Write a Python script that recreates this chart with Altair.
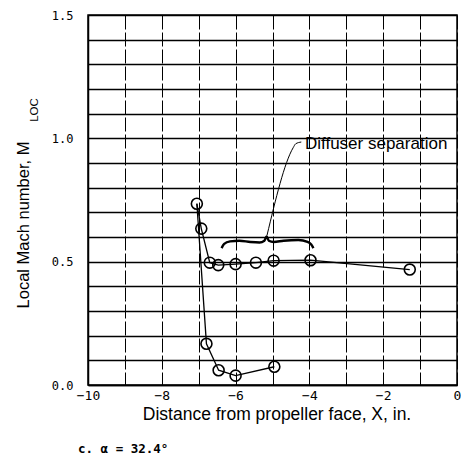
import altair as alt
import pandas as pd

# Measured data (Distance X in inches, local Mach number)
upper_x = [-7.05, -6.93, -6.70, -6.47, -6.00, -5.45, -4.97, -3.97, -1.28]
upper_y = [0.735, 0.634, 0.496, 0.486, 0.490, 0.496, 0.504, 0.506, 0.468]
lower_x = [-7.05, -6.79, -6.46, -6.00, -4.95]
lower_y = [0.735, 0.167, 0.060, 0.038, 0.074]

# Annotation: curly brace and leader line
brace_x = [-6.38, -6.31, -6.15, -5.90, -5.60, -5.35, -5.22, -5.16, -5.10, -4.97, -4.70, -4.30, -4.05, -3.95, -3.89]
brace_y = [0.555, 0.572, 0.582, 0.585, 0.580, 0.578, 0.585, 0.602, 0.585, 0.580, 0.585, 0.588, 0.580, 0.570, 0.555]
leader_x = [-5.15, -4.44, -4.37, -4.22]
leader_y = [0.606, 0.962, 0.978, 0.985]
note_text = ["Diffuser separation"]
note_x = [-4.12]
note_y = [0.978]

x_ticks = list(range(-10, 1))
y_ticks = [round(i * 0.1, 1) for i in range(16)]

W, H = 369, 370

rows = []
for i, (a, b) in enumerate(zip(upper_x, upper_y)):
    rows.append({"x": a, "y": b, "branch": "upper", "o": i})
for i, (a, b) in enumerate(zip(lower_x, lower_y)):
    rows.append({"x": a, "y": b, "branch": "lower", "o": i})
lines_df = pd.DataFrame(rows)
pts_df = lines_df.drop_duplicates(subset=["x", "y"])

brace_df = pd.DataFrame({"x": brace_x, "y": brace_y, "o": list(range(len(brace_x)))})
leader_df = pd.DataFrame({"x": leader_x, "y": leader_y, "o": list(range(len(leader_x)))})
note_df = pd.DataFrame({"x": note_x, "y": note_y, "t": note_text})

X = alt.X(
    "x:Q",
    scale=alt.Scale(domain=[-10, 0], nice=False, zero=False),
    axis=alt.Axis(
        values=x_ticks,
        labelExpr="datum.value % 2 == 0 ? format(datum.value, 'd') : ''",
        title=None,
        grid=True,
        gridDash=[14, 3],
        gridColor="black",
        gridOpacity=1,
        gridWidth=1,
        ticks=False,
        labelPadding=4,
        labelFont="DejaVu Sans Mono",
        labelFontSize=13,
        labelColor="black",
        labelBaseline="top",
        labelFlush=False,
        labelOverlap=False,
        domainColor="black",
        domainWidth=1.5,
    ),
)
Y = alt.Y(
    "y:Q",
    scale=alt.Scale(domain=[0, 1.5], nice=False, zero=False),
    axis=alt.Axis(
        values=y_ticks,
        labelExpr="abs(datum.value*2 - round(datum.value*2)) < 0.001 ? format(datum.value, '.1f') : ''",
        title=None,
        grid=True,
        gridColor="black",
        gridOpacity=1,
        gridWidth=1.5,
        ticks=False,
        labelPadding=15,
        labelFont="DejaVu Sans Mono",
        labelFontSize=12,
        labelColor="black",
        labelFlush=False,
        labelOverlap=False,
        domainColor="black",
        domainWidth=1.5,
    ),
)

lines = alt.Chart(lines_df).mark_line(color="black", strokeWidth=1.3).encode(
    x=X, y=Y, detail="branch:N", order="o:Q"
)
points = alt.Chart(pts_df).mark_point(
    shape="circle", size=120, color="black", strokeWidth=1.6, filled=False, opacity=1
).encode(x=X, y=Y)

brace = alt.Chart(brace_df).mark_line(
    color="black", strokeWidth=2.4, interpolate="monotone"
).encode(x=X, y=Y, order="o:Q")
leader = alt.Chart(leader_df).mark_line(
    color="black", strokeWidth=1, interpolate="monotone"
).encode(x=X, y=Y, order="o:Q")
note = alt.Chart(note_df).mark_text(
    align="left", baseline="middle", font="Liberation Sans", fontSize=17, color="black"
).encode(x=X, y=Y, text="t:N")

one = pd.DataFrame({"k": [0]})
y_title = alt.Chart(one).mark_text(
    angle=270, align="center", baseline="alphabetic", font="Liberation Sans",
    fontSize=16.5, color="black"
).encode(x=alt.value(-59), y=alt.value(210), text=alt.value("Local Mach number, M"))
y_sub = alt.Chart(one).mark_text(
    angle=270, align="center", baseline="alphabetic", font="Liberation Sans",
    fontSize=11.5, color="black"
).encode(x=alt.value(-50), y=alt.value(95), text=alt.value("LOC"))
x_title = alt.Chart(one).mark_text(
    align="center", baseline="middle", font="Liberation Sans",
    fontSize=17.5, color="black"
).encode(x=alt.value(189), y=alt.value(400), text=alt.value("Distance from propeller face, X, in."))
caption = alt.Chart(one).mark_text(
    align="left", baseline="middle", font="DejaVu Sans Mono", fontWeight="bold",
    fontSize=12.5, color="black"
).encode(x=alt.value(-10), y=alt.value(434), text=alt.value("c. α = 32.4°"))

chart = alt.layer(
    lines, points, brace, leader, note, y_title, y_sub, x_title, caption
).properties(
    width=W,
    height=H,
    autosize=alt.AutoSizeParams(type="none"),
    padding={"left": 88, "top": 15, "right": 4, "bottom": 77},
    background="white",
).configure_view(stroke="black", strokeWidth=1.5)

chart.save("out.html", embed_options={"renderer": "svg", "actions": False})
